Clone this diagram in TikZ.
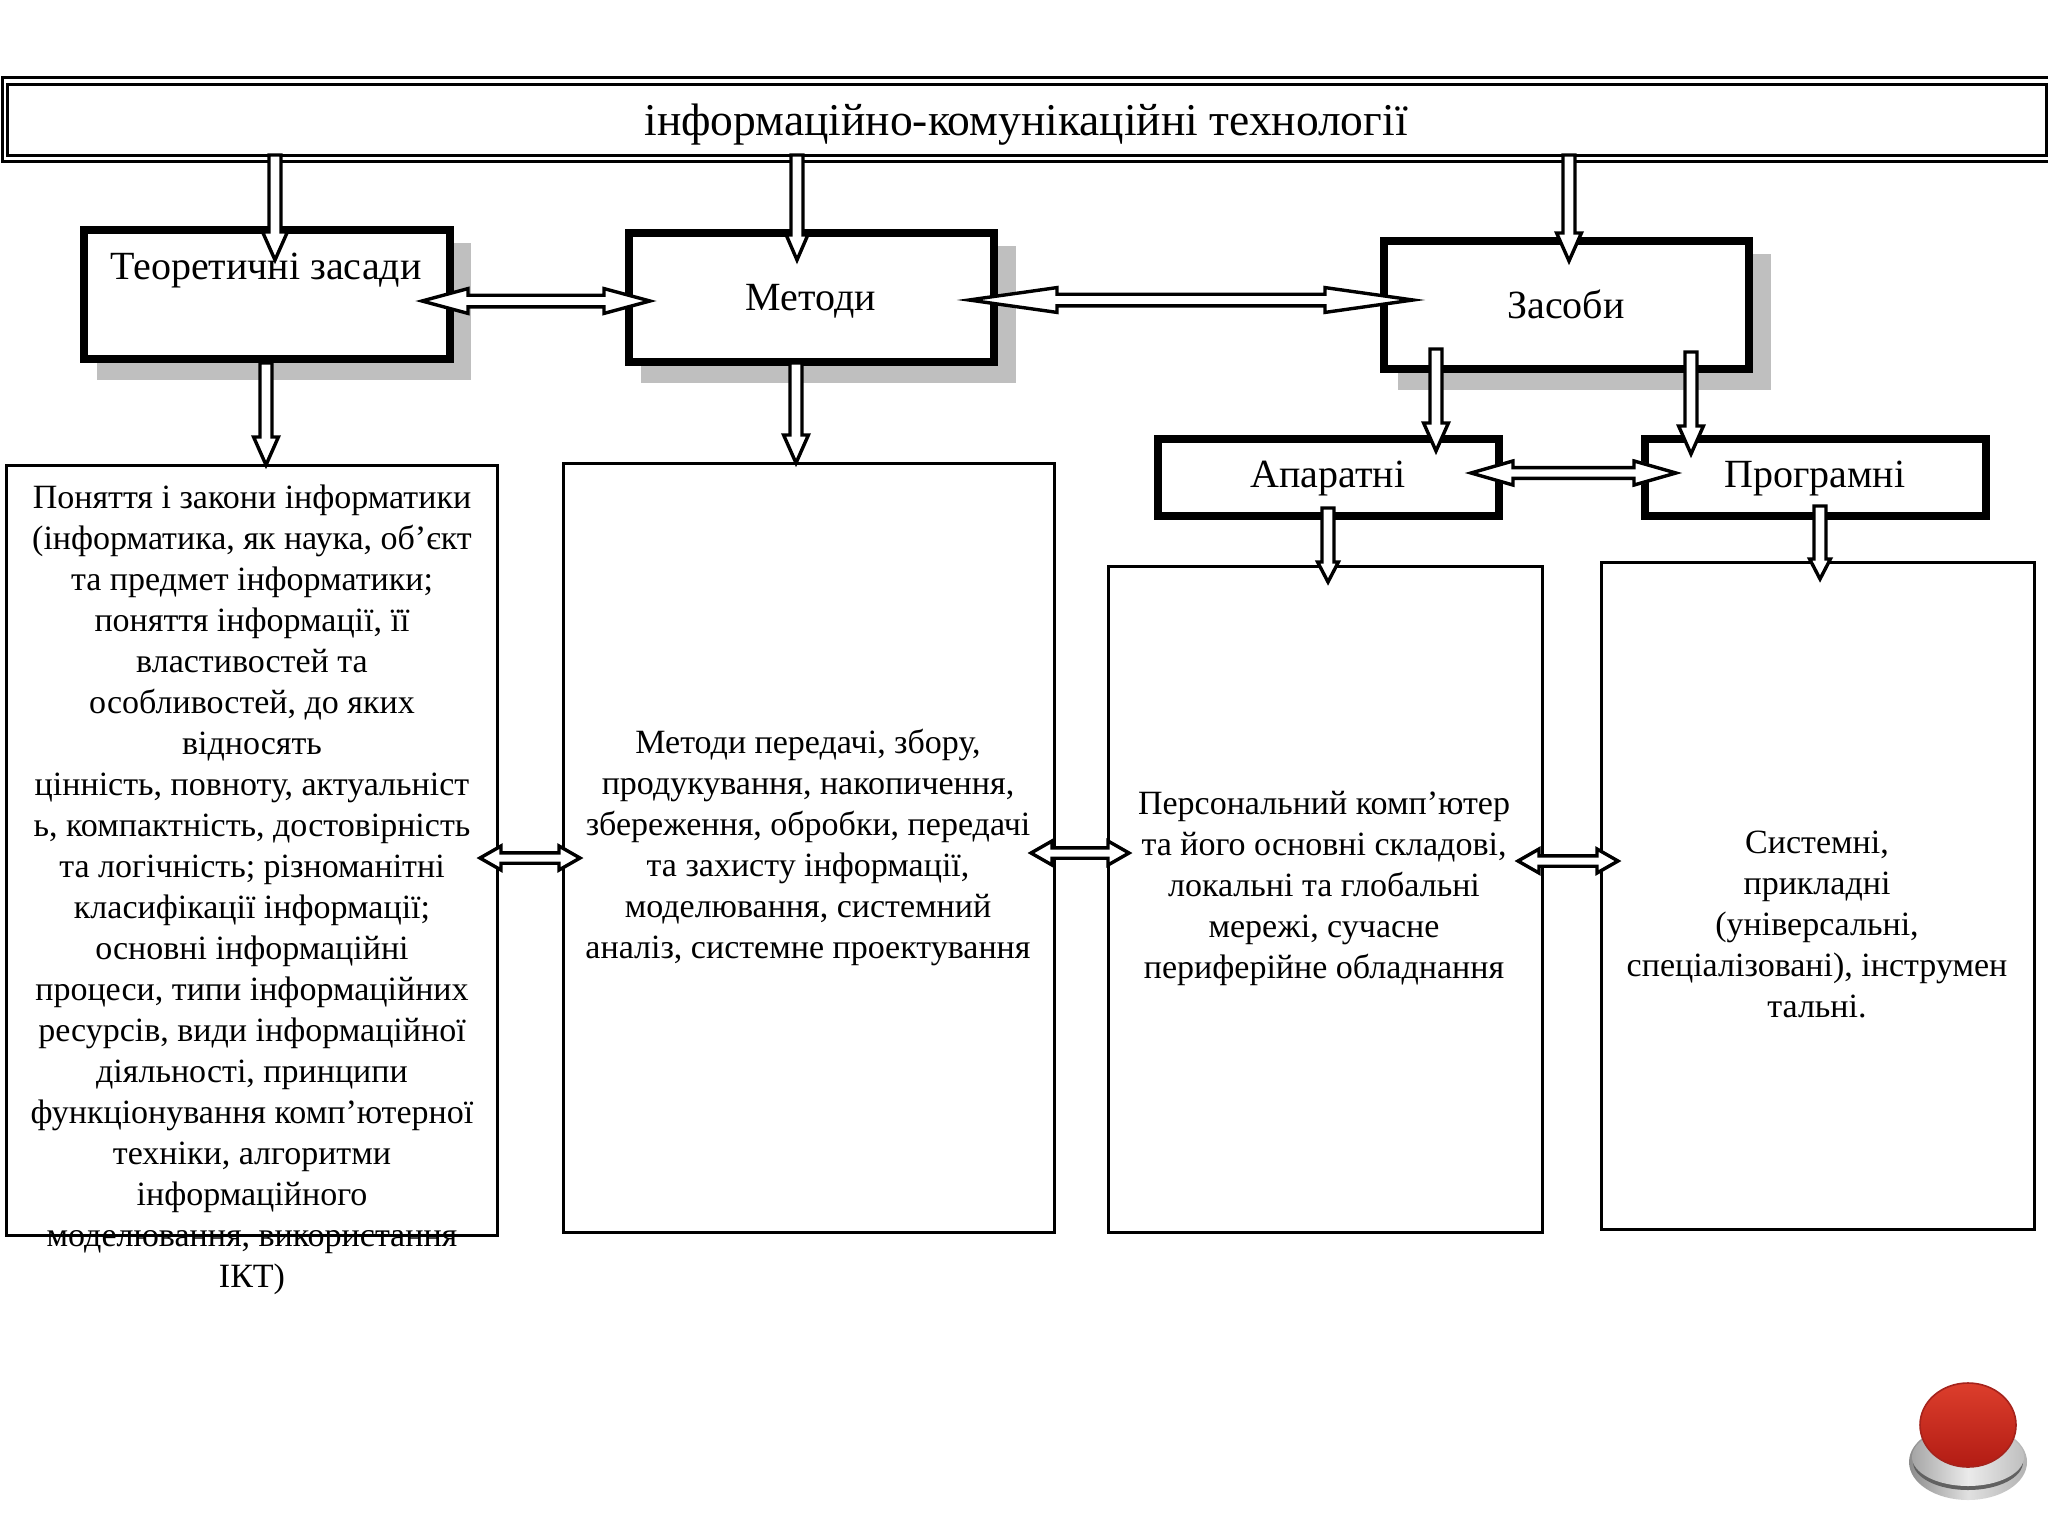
\documentclass[tikz,border=0pt]{standalone}
\usepackage{fontspec}
\setmainfont{Liberation Serif}
\usetikzlibrary{calc}
\definecolor{shadowgrey}{HTML}{A2A2A2}
\definecolor{boxshade}{HTML}{BFBFBF}
\tikzset{
  heavybox/.style={draw=black,fill=white,line width=4pt,inner sep=0pt,outer sep=0pt},
  thinbox/.style={draw=black,fill=white,line width=1.5pt,inner sep=0pt,outer sep=0pt},
  titleframe/.style={draw=black,fill=white,line width=1.5pt,inner sep=0pt,outer sep=0pt},
  blockarrow/.style={draw=black,fill=white,line width=1.7pt,line join=miter},
  arrowshadow/.style={fill=shadowgrey,fill opacity=.69,draw=none,xshift=7pt,yshift=-8.5pt},
  titletext/.style={font=\fontsize{22.75}{28}\selectfont},
  headtext/.style={font=\fontsize{20}{24}\selectfont},
  bodytext/.style={font=\fontsize{17}{20.5}\selectfont,align=center},
}
\newcommand\pbox[6]{\node[#2,minimum width={(#5-#3)*0.5pt},minimum height={(#6-#4)*0.5pt}] (#1) at ({(#3+#5)/2},{(#4+#6)/2}) {};}
% down arrow: head length, head half width, start, tip
\newcommand\blkdown[4]{\draw[blockarrow] let \p1=(#3),\p2=(#4) in
  (\x1-3pt,\y1) -- (\x1+3pt,\y1) -- (\x1+3pt,\y2+#1) -- (\x1+#2,\y2+#1) -- (\x2,\y2)
  -- (\x1-#2,\y2+#1) -- (\x1-3pt,\y2+#1) -- cycle;}
% two-headed horizontal arrow: style, head length, shaft half, head half, left tip, right tip
\newcommand\blkboth[6]{\draw[#1] let \p1=(#5),\p2=(#6) in
  (\x1,\y1) -- (\x1+#2,\y1+#4) -- (\x1+#2,\y1+#3) -- (\x2-#2,\y1+#3) -- (\x2-#2,\y1+#4) -- (\x2,\y1)
  -- (\x2-#2,\y1-#4) -- (\x2-#2,\y1-#3) -- (\x1+#2,\y1-#3) -- (\x1+#2,\y1-#4) -- cycle;}
\begin{document}
\begin{tikzpicture}[x=.5pt,y=-.5pt]
\useasboundingbox (0,0) rectangle (2048,1536);
% shadows of the heavy boxes
\fill[boxshade] (97,243) rectangle (471,380);
\fill[boxshade] (641,246) rectangle (1016,383);
\fill[boxshade] (1398,254) rectangle (1771,390);
% title
\pbox{titleouter}{titleframe}{2}{78}{2056}{161}
\pbox{title}{titleframe}{7}{85}{2046}{155}
\node[titletext] (titlet) at (1026,125) {інформаційно-комунікаційні технології};
% heavy boxes
\pbox{teor}{heavybox}{84}{230}{450}{359}
\pbox{metod}{heavybox}{629}{233}{994}{362}
\pbox{zasob}{heavybox}{1384}{241}{1749}{369}
\pbox{apar}{heavybox}{1158}{439}{1499}{516}
\pbox{prog}{heavybox}{1645}{439}{1986}{516}
% lower boxes
\pbox{b1}{thinbox}{6}{465}{497}{1235}
\pbox{b2}{thinbox}{563}{463}{1054}{1232}
\pbox{b3}{thinbox}{1108}{566}{1542}{1232}
\pbox{b4}{thinbox}{1601}{562}{2034}{1229}
% texts
\node[headtext] (teort) at (266,271) {Теоретичні засади};
\node[headtext] (metodt) at (811,301) {Методи};
\node[headtext] (zasobt) at (1566,304) {Засоби};
\node[headtext] (apart) at (1328,479) {Апаратні};
\node[headtext] (progt) at (1815,479) {Програмні};
\node[bodytext] (b1t) at (252,890) {Поняття і закони інформатики\\(інформатика, як наука, об’єкт\\та предмет інформатики;\\поняття інформації, її\\властивостей та\\особливостей, до яких\\відносять\\цінність, повноту, актуальніст\\ь, компактність, достовірність\\та логічність; різноманітні\\класифікації інформації;\\основні інформаційні\\процеси, типи інформаційних\\ресурсів, види інформаційної\\діяльності, принципи\\функціонування комп’ютерної\\техніки, алгоритми\\інформаційного\\моделювання, використання\\ІКТ)};
\node[bodytext] (b2t) at (808,847) {Методи передачі, збору,\\продукування, накопичення,\\збереження, обробки, передачі\\та захисту інформації,\\моделювання, системний\\аналіз, системне проектування};
\node[bodytext] (b3t) at (1324,888) {Персональний комп’ютер\\та його основні складові,\\локальні та глобальні\\мережі, сучасне\\периферійне обладнання};
\node[bodytext] (b4t) at (1817,924) {Системні,\\прикладні\\(універсальні,\\спеціалізовані), інструмен\\тальні.};
% arrow end points
\coordinate (tl1) at (275,155); \coordinate (tp1) at (275,260);
\coordinate (tl2) at (797,155); \coordinate (tp2) at (797,260);
\coordinate (tl3) at (1569,155); \coordinate (tp3) at (1569,261);
\coordinate (te1) at (266,363); \coordinate (te2) at (266,465);
\coordinate (me1) at (796,363); \coordinate (me2) at (796,463);
\coordinate (za1) at (1436,349); \coordinate (za2) at (1436,451);
\coordinate (za3) at (1691,352); \coordinate (za4) at (1691,454);
\coordinate (ap1) at (1328,508); \coordinate (ap2) at (1328,582);
\coordinate (pr1) at (1820,506); \coordinate (pr2) at (1820,579);
\coordinate (h1l) at (422,301); \coordinate (h1r) at (650,301);
\coordinate (h2l) at (969,300); \coordinate (h2r) at (1413,300);
\coordinate (h3l) at (1471,473); \coordinate (h3r) at (1676,473);
\coordinate (h4l) at (480,858); \coordinate (h4r) at (580,858);
\coordinate (h5l) at (1031,853); \coordinate (h5r) at (1129,853);
\coordinate (h6l) at (1518,861); \coordinate (h6r) at (1618,861);
% arrow shadows
\blkboth{arrowshadow}{23pt}{3.4pt}{7pt}{h1l}{h1r}
\blkboth{arrowshadow}{44pt}{3.4pt}{7pt}{h2l}{h2r}
\blkboth{arrowshadow}{21pt}{3.4pt}{7pt}{h3l}{h3r}
% arrows
\blkdown{14pt}{6.2pt}{tl1}{tp1}
\blkdown{12.5pt}{5.4pt}{tl2}{tp2}
\blkdown{14pt}{6.2pt}{tl3}{tp3}
\blkdown{14pt}{6.2pt}{te1}{te2}
\blkdown{14pt}{6.2pt}{me1}{me2}
\blkdown{14pt}{6.2pt}{za1}{za2}
\blkdown{14pt}{6.2pt}{za3}{za4}
\blkdown{10pt}{5.2pt}{ap1}{ap2}
\blkdown{10pt}{5.2pt}{pr1}{pr2}
\blkboth{blockarrow}{23pt}{2.9pt}{6.2pt}{h1l}{h1r}
\blkboth{blockarrow}{44pt}{2.9pt}{6.2pt}{h2l}{h2r}
\blkboth{blockarrow}{21pt}{2.7pt}{6pt}{h3l}{h3r}
\blkboth{blockarrow}{10.5pt}{2.6pt}{6pt}{h4l}{h4r}
\blkboth{blockarrow}{10.5pt}{2.6pt}{6pt}{h5l}{h5r}
\blkboth{blockarrow}{10.5pt}{2.6pt}{6pt}{h6l}{h6r}
% red button
\shade[left color=black!45!white,right color=black!30!white,middle color=black!12!white] (1968,1462) ellipse (59 and 38);
\fill[black!62!white] (1968,1462) ellipse (55 and 28);
\shade[left color=black!35!white,right color=black!25!white,middle color=black!8!white] (1968,1457) ellipse (56 and 29);
\shade[top color={rgb,255:red,220;green,62;blue,44},bottom color={rgb,255:red,178;green,28;blue,20},draw={rgb,255:red,165;green,35;blue,28},line width=.8pt] (1968,1425) ellipse (48 and 42);
\end{tikzpicture}
\end{document}
